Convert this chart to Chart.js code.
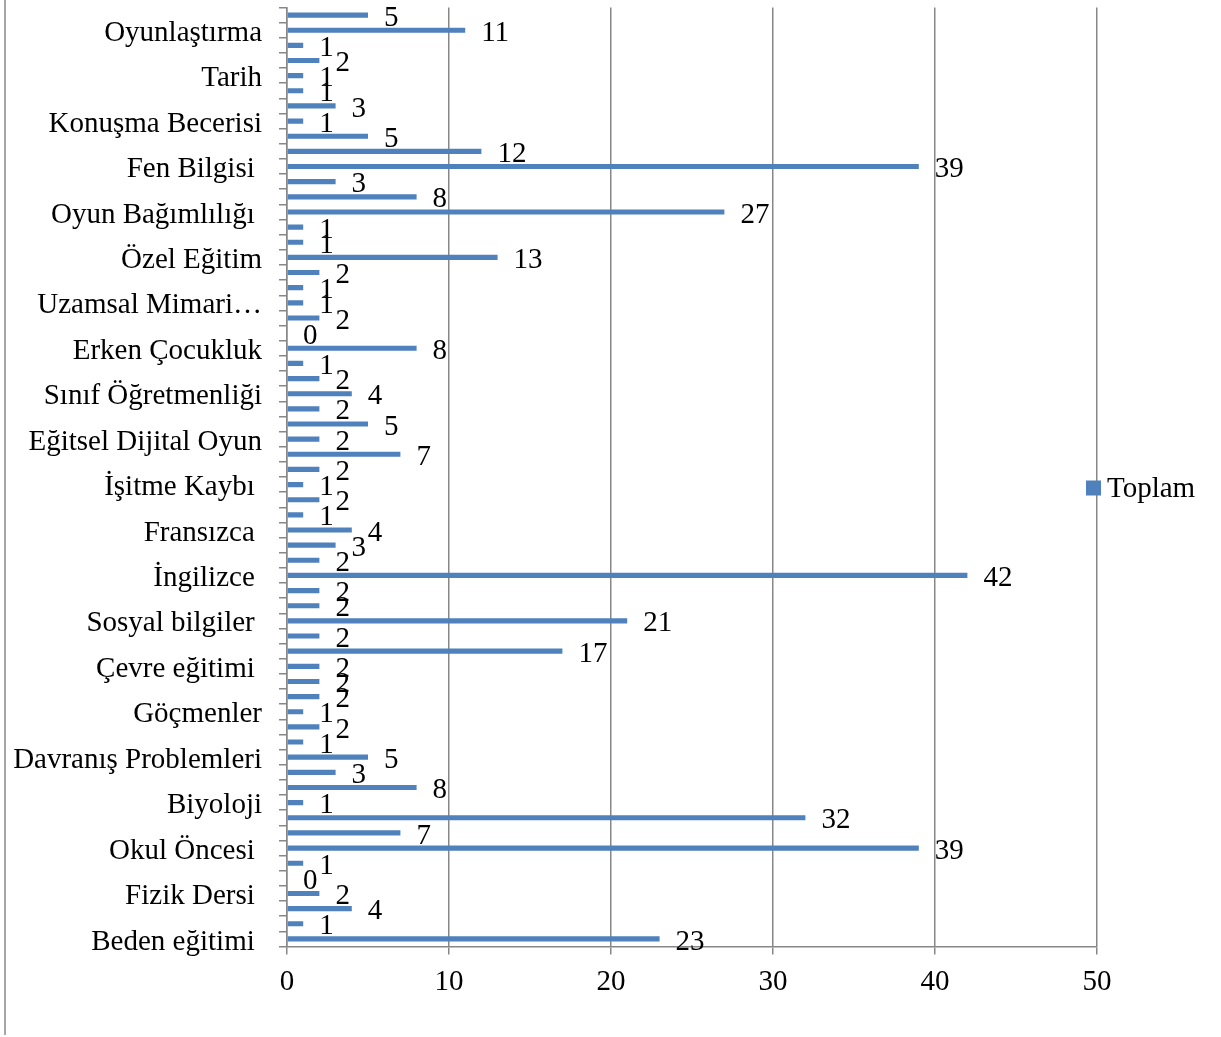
<!DOCTYPE html>
<html>
<head>
<meta charset="utf-8">
<script src="https://cdn.jsdelivr.net/npm/chart.js@4.4.1/dist/chart.umd.min.js"></script>
<style>
html,body{margin:0;padding:0;background:#fff;}
#wrap{position:relative;width:1221px;height:1037px;}
#frame{position:absolute;left:4px;top:0;width:2px;height:1035px;background:#a6a6a6;}
canvas{position:absolute;left:0;top:0;}
</style>
</head>
<body>
<div id="wrap"><div id="frame"></div><canvas id="c" width="1221" height="1037"></canvas></div>
<script>
// Categories from top to bottom (only every third label is visible in the original)
const categories = [
  "", "Oyunlaştırma", "",
  "", "Tarih", "",
  "", "Konuşma Becerisi", "",
  "", "Fen Bilgisi ", "",
  "", "Oyun Bağımlılığı ", "",
  "", "Özel Eğitim", "",
  "", "Uzamsal Mimari…", "",
  "", "Erken Çocukluk", "",
  "", "Sınıf Öğretmenliği", "",
  "", "Eğitsel Dijital Oyun", "",
  "", "İşitme Kaybı ", "",
  "", "Fransızca ", "",
  "", "İngilizce ", "",
  "", "Sosyal bilgiler ", "",
  "", "Çevre eğitimi ", "",
  "", "Göçmenler", "",
  "", "Davranış Problemleri", "",
  "", "Biyoloji", "",
  "", "Okul Öncesi ", "",
  "", "Fizik Dersi ", "",
  "", "Beden eğitimi "
];
const values = [
  5, 11, 1,
  2, 1, 1,
  3, 1, 5,
  12, 39, 3,
  8, 27, 1,
  1, 13, 2,
  1, 1, 2,
  0, 8, 1,
  2, 4, 2,
  5, 2, 7,
  2, 1, 2,
  1, 4, 3,
  2, 42, 2,
  2, 21, 2,
  17, 2, 2,
  2, 1, 2,
  1, 5, 3,
  8, 1, 32,
  7, 39, 1,
  0, 2, 4,
  1, 23
];
const seriesName = "Toplam";
const xMin = 0, xMax = 50, xStep = 10;

const barColor = "#4F81BD";
const axisColor = "#878787";
const fontFamily = '"Liberation Serif", "Times New Roman", serif';
const fontSize = 29;

Chart.defaults.font.family = fontFamily;
Chart.defaults.font.size = fontSize;
Chart.defaults.color = "#000";

const valueLabels = {
  id: "valueLabels",
  afterDatasetsDraw(chart) {
    const ctx = chart.ctx;
    const meta = chart.getDatasetMeta(0);
    ctx.save();
    ctx.font = fontSize + "px " + fontFamily;
    ctx.fillStyle = "#000";
    ctx.textAlign = "left";
    ctx.textBaseline = "middle";
    meta.data.forEach((bar, i) => {
      ctx.fillText(String(values[i]), bar.x + 16, bar.y + 3);
    });
    ctx.restore();
  }
};

const sideLegend = {
  id: "sideLegend",
  afterDraw(chart) {
    const ctx = chart.ctx;
    const a = chart.chartArea;
    const cy = (a.top + a.bottom) / 2 + 11;
    ctx.save();
    ctx.fillStyle = barColor;
    ctx.fillRect(a.right - 11, cy - 7.5, 15, 15);
    ctx.fillStyle = "#000";
    ctx.font = fontSize + "px " + fontFamily;
    ctx.textAlign = "left";
    ctx.textBaseline = "middle";
    ctx.fillText(chart.data.datasets[0].label, a.right + 10, cy + 1);
    ctx.restore();
  }
};

new Chart(document.getElementById("c"), {
  type: "bar",
  data: {
    labels: categories,
    datasets: [{
      label: seriesName,
      data: values,
      backgroundColor: barColor,
      borderWidth: 0,
      barPercentage: 0.34,
      categoryPercentage: 1.0
    }]
  },
  options: {
    indexAxis: "y",
    responsive: false,
    devicePixelRatio: 1,
    animation: false,
    layout: { padding: { top: 7.5, right: 124, bottom: 0, left: 0 } },
    plugins: { legend: { display: false }, tooltip: { enabled: false } },
    scales: {
      x: {
        min: xMin, max: xMax,
        ticks: { stepSize: xStep, padding: 10, font: { size: fontSize } },
        grid: { color: axisColor, lineWidth: 1.5, drawTicks: true, tickLength: 8, tickColor: axisColor },
        border: { display: true, color: axisColor, width: 1.5 },
        afterFit(scale) { scale.height = 90.5; scale.paddingLeft = 0; scale.paddingRight = 0; }
      },
      y: {
        ticks: { autoSkip: false, padding: 17, labelOffset: 3, font: { size: fontSize } },
        grid: { offset: true, drawOnChartArea: false, drawTicks: true, tickLength: 8, color: axisColor, lineWidth: 1.5 },
        border: { display: true, color: axisColor, width: 1.5 },
        afterFit(scale) { scale.width = 287; scale.paddingTop = 0; scale.paddingBottom = 0; }
      }
    }
  },
  plugins: [valueLabels, sideLegend]
});
</script>
</body>
</html>
